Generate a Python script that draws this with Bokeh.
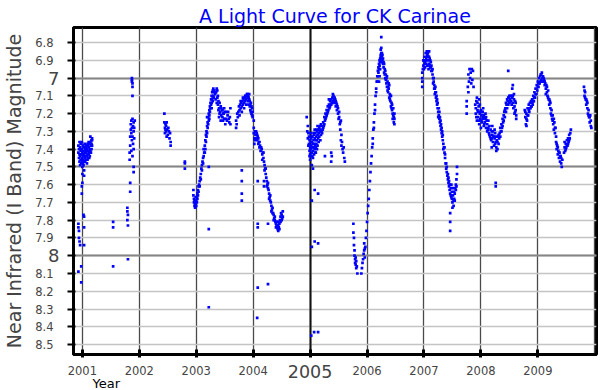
from bokeh.plotting import figure
from bokeh.models import Range1d, FixedTicker, Grid, LinearAxis, Title
from bokeh.embed import file_html
from bokeh.resources import INLINE

# ---------------- data (year, I magnitude) ----------------
season_2001 = [
    (2000.93, 7.38), (2000.93, 7.42), (2000.94, 7.45), (2000.94, 7.40), (2000.95, 7.47), (2000.95, 7.43),
    (2000.96, 7.39), (2000.96, 7.44), (2000.97, 7.41), (2000.97, 7.46), (2000.98, 7.48), (2000.98, 7.43),
    (2000.99, 7.40), (2000.99, 7.45), (2001.00, 7.42), (2001.00, 7.47), (2001.00, 7.50), (2001.01, 7.38),
    (2001.01, 7.44), (2001.02, 7.41), (2001.02, 7.46), (2001.03, 7.43), (2001.03, 7.39), (2001.04, 7.45),
    (2001.04, 7.42), (2001.05, 7.40), (2001.05, 7.47), (2001.06, 7.44), (2001.06, 7.38), (2001.07, 7.42),
    (2001.07, 7.46), (2001.08, 7.40), (2001.08, 7.44), (2001.09, 7.37), (2001.09, 7.43), (2001.10, 7.41),
    (2001.10, 7.45), (2001.11, 7.39), (2001.11, 7.43), (2001.12, 7.37), (2001.12, 7.42), (2001.13, 7.40),
    (2001.14, 7.36), (2001.14, 7.41), (2001.15, 7.38), (2001.16, 7.35), (2001.16, 7.40), (2001.17, 7.34),
    (2001.17, 7.38),
    (2000.95, 7.36), (2000.97, 7.37), (2000.99, 7.36), (2001.01, 7.48), (2001.03, 7.47), (2001.05, 7.44),
    (2001.07, 7.39), (2001.09, 7.46), (2001.11, 7.36), (2001.13, 7.44), (2001.15, 7.42), (2001.16, 7.37),
    (2001.04, 7.37), (2001.06, 7.41), (2001.08, 7.48), (2001.10, 7.38), (2001.12, 7.45), (2001.02, 7.49),
    (2000.96, 7.49), (2000.98, 7.40), (2001.14, 7.33), (2001.17, 7.35),
    (2001.00, 7.54), (2001.00, 7.59), (2000.99, 7.61), (2000.99, 7.65), (2001.03, 7.52), (2001.03, 7.55),
    (2000.93, 7.82), (2000.93, 7.84), (2000.94, 7.86), (2000.94, 7.90), (2000.95, 7.92), (2000.96, 7.94),
    (2001.02, 7.77), (2001.03, 7.78), (2001.03, 7.84), (2001.03, 7.94), (2000.93, 8.09), (2000.98, 8.06),
    (2000.98, 8.15),
]
season_2001b = [
    (2001.54, 7.81), (2001.54, 7.84), (2001.54, 8.06),
    (2001.79, 7.73), (2001.79, 7.75), (2001.80, 7.77), (2001.79, 7.80), (2001.80, 7.83), (2001.80, 8.02),
    (2001.84, 7.64), (2001.84, 7.59), (2001.90, 7.50), (2001.90, 7.53),
    (2001.83, 7.46), (2001.83, 7.42), (2001.84, 7.38), (2001.84, 7.33), (2001.85, 7.29), (2001.85, 7.26),
    (2001.86, 7.24), (2001.86, 7.31), (2001.87, 7.35), (2001.87, 7.28), (2001.88, 7.23), (2001.88, 7.33),
    (2001.89, 7.37), (2001.89, 7.27), (2001.90, 7.30), (2001.90, 7.25), (2001.91, 7.34), (2001.91, 7.28),
    (2001.92, 7.24), (2001.86, 7.41), (2001.88, 7.44), (2001.90, 7.40),
    (2001.87, 7.00), (2001.87, 7.01), (2001.87, 7.02), (2001.88, 7.03), (2001.88, 7.05), (2001.88, 7.10),
]
season_2002 = [
    (2002.44, 7.20), (2002.44, 7.25), (2002.45, 7.28), (2002.45, 7.31), (2002.46, 7.26), (2002.46, 7.29),
    (2002.47, 7.27), (2002.47, 7.30), (2002.48, 7.33), (2002.48, 7.25), (2002.49, 7.29), (2002.50, 7.32),
    (2002.51, 7.28), (2002.52, 7.30), (2002.53, 7.34), (2002.55, 7.36), (2002.55, 7.38), (2002.54, 7.31),
    (2002.80, 7.47), (2002.80, 7.48), (2002.80, 7.51),
]
season_2003 = [
    (2002.95, 7.63), (2002.95, 7.66), (2002.96, 7.68), (2002.96, 7.70), (2002.97, 7.72), (2002.97, 7.69),
    (2002.98, 7.71), (2002.98, 7.73), (2002.99, 7.70), (2002.99, 7.67), (2003.00, 7.72), (2003.00, 7.69),
    (2003.01, 7.70), (2003.01, 7.67), (2003.02, 7.68), (2003.02, 7.65), (2003.03, 7.66), (2003.03, 7.63),
    (2003.04, 7.64), (2003.04, 7.61),
    (2003.05, 7.60), (2003.06, 7.58), (2003.07, 7.56), (2003.08, 7.54), (2003.09, 7.51), (2003.10, 7.49),
    (2003.11, 7.47), (2003.12, 7.45), (2003.13, 7.44), (2003.14, 7.42), (2003.06, 7.61), (2003.08, 7.57),
    (2003.10, 7.52), (2003.12, 7.48),
    (2003.15, 7.38), (2003.16, 7.35), (2003.17, 7.32), (2003.18, 7.30), (2003.19, 7.27), (2003.20, 7.25),
    (2003.21, 7.22), (2003.22, 7.20), (2003.23, 7.18), (2003.24, 7.16), (2003.25, 7.14), (2003.26, 7.12),
    (2003.27, 7.10), (2003.28, 7.08), (2003.29, 7.07), (2003.30, 7.06), (2003.16, 7.40), (2003.18, 7.33),
    (2003.20, 7.28), (2003.22, 7.24), (2003.24, 7.19), (2003.26, 7.15), (2003.28, 7.12), (2003.30, 7.10),
    (2003.19, 7.22), (2003.23, 7.21), (2003.27, 7.14), (2003.29, 7.11), (2003.31, 7.08), (2003.36, 7.06),
    (2003.13, 7.40), (2003.15, 7.42), (2003.17, 7.36), (2003.19, 7.31), (2003.21, 7.26), (2003.23, 7.23),
    (2003.25, 7.17), (2003.27, 7.17), (2003.29, 7.13), (2003.31, 7.11), (2003.32, 7.07), (2003.34, 7.08),
    (2003.37, 7.07), (2003.38, 7.10),
    (2003.33, 7.09), (2003.34, 7.12), (2003.35, 7.08), (2003.36, 7.14), (2003.37, 7.11), (2003.38, 7.15),
    (2003.39, 7.13), (2003.40, 7.17), (2003.41, 7.14), (2003.42, 7.19), (2003.43, 7.16), (2003.44, 7.21),
    (2003.45, 7.18), (2003.46, 7.22), (2003.47, 7.24), (2003.48, 7.20), (2003.49, 7.17), (2003.50, 7.19),
    (2003.51, 7.26), (2003.52, 7.23), (2003.40, 7.22), (2003.43, 7.24), (2003.46, 7.18), (2003.55, 7.21),
    (2003.58, 7.25), (2003.60, 7.17), (2003.60, 7.26),
    (2003.39, 7.18), (2003.41, 7.20), (2003.44, 7.17), (2003.47, 7.20), (2003.49, 7.23), (2003.52, 7.19),
    (2003.54, 7.24), (2003.56, 7.19), (2003.57, 7.23), (2003.59, 7.22),
    (2003.22, 7.85), (2003.22, 8.29), (2003.22, 7.50),
    (2003.70, 7.24), (2003.70, 7.28), (2003.71, 7.26), (2003.72, 7.20), (2003.73, 7.22),
    (2003.74, 7.19), (2003.75, 7.16), (2003.76, 7.18), (2003.77, 7.15), (2003.78, 7.17), (2003.79, 7.14),
    (2003.80, 7.16), (2003.81, 7.13), (2003.82, 7.15), (2003.83, 7.12), (2003.84, 7.14), (2003.85, 7.11),
    (2003.86, 7.13), (2003.87, 7.10), (2003.88, 7.12), (2003.89, 7.09), (2003.90, 7.11), (2003.91, 7.13),
    (2003.92, 7.15), (2003.93, 7.12), (2003.94, 7.16), (2003.95, 7.18), (2003.96, 7.14), (2003.97, 7.20),
    (2003.98, 7.17), (2003.99, 7.22),
    (2003.76, 7.21), (2003.78, 7.13), (2003.80, 7.19), (2003.82, 7.11), (2003.84, 7.17), (2003.86, 7.10),
    (2003.88, 7.15), (2003.90, 7.09), (2003.91, 7.10), (2003.92, 7.11), (2003.93, 7.09), (2003.94, 7.13),
    (2003.95, 7.15), (2003.96, 7.19), (2003.97, 7.16), (2003.98, 7.21), (2003.99, 7.19),
    (2003.80, 7.52), (2003.80, 7.58), (2003.80, 7.65), (2003.80, 7.69),
]
season_2004 = [
    (2004.01, 7.24), (2004.01, 7.28), (2004.01, 7.31), (2004.02, 7.34), (2004.02, 7.37),
    (2004.03, 7.30), (2004.04, 7.32), (2004.05, 7.34), (2004.06, 7.31), (2004.07, 7.35), (2004.08, 7.33),
    (2004.09, 7.37), (2004.10, 7.36), (2004.11, 7.39), (2004.12, 7.38), (2004.13, 7.41),
    (2004.15, 7.40), (2004.16, 7.43), (2004.17, 7.42), (2004.18, 7.45), (2004.19, 7.47), (2004.20, 7.49),
    (2004.21, 7.51), (2004.22, 7.54), (2004.23, 7.56), (2004.24, 7.58), (2004.25, 7.60), (2004.26, 7.62),
    (2004.27, 7.63), (2004.28, 7.65), (2004.29, 7.67), (2004.30, 7.69), (2004.31, 7.70), (2004.32, 7.72),
    (2004.33, 7.74), (2004.34, 7.73), (2004.35, 7.76), (2004.36, 7.77), (2004.37, 7.79), (2004.38, 7.80),
    (2004.39, 7.81), (2004.40, 7.82), (2004.41, 7.83), (2004.42, 7.84), (2004.43, 7.85), (2004.44, 7.86),
    (2004.45, 7.84), (2004.46, 7.82), (2004.47, 7.80), (2004.48, 7.78), (2004.49, 7.76), (2004.50, 7.77),
    (2004.51, 7.79), (2004.52, 7.75), (2004.44, 7.81), (2004.46, 7.85),
    (2004.03, 7.35), (2004.05, 7.30), (2004.07, 7.32), (2004.09, 7.34), (2004.11, 7.36), (2004.14, 7.39),
    (2004.16, 7.46), (2004.18, 7.42), (2004.20, 7.52), (2004.22, 7.51), (2004.24, 7.61), (2004.26, 7.59),
    (2004.28, 7.68), (2004.30, 7.66), (2004.32, 7.75), (2004.34, 7.76), (2004.36, 7.80), (2004.38, 7.78),
    (2004.40, 7.84), (2004.42, 7.81), (2004.44, 7.83), (2004.48, 7.81), (2004.50, 7.80), (2004.52, 7.78),
    (2004.08, 7.58), (2004.08, 7.82), (2004.08, 7.84), (2004.08, 8.18), (2004.07, 8.35), (2004.19, 7.58),
    (2004.19, 7.61), (2004.26, 7.82), (2004.26, 8.16),
]
season_2005 = [
    (2004.94, 7.22), (2004.95, 7.30), (2004.96, 7.27), (2004.96, 7.34), (2004.97, 7.38),
    (2004.98, 7.33), (2004.98, 7.37), (2004.99, 7.41), (2004.99, 7.35), (2005.00, 7.39), (2005.00, 7.43),
    (2005.01, 7.36), (2005.01, 7.40), (2005.02, 7.34), (2005.02, 7.38), (2005.03, 7.42), (2005.03, 7.36),
    (2005.04, 7.39), (2005.04, 7.33), (2005.05, 7.37), (2005.05, 7.41), (2005.06, 7.35), (2005.06, 7.39),
    (2005.07, 7.32), (2005.07, 7.37), (2005.08, 7.40), (2005.08, 7.34), (2005.09, 7.38), (2005.09, 7.31),
    (2005.10, 7.35), (2005.10, 7.39), (2005.11, 7.33), (2005.11, 7.37), (2005.12, 7.30), (2005.12, 7.35),
    (2005.13, 7.32), (2005.13, 7.38), (2005.14, 7.29), (2005.14, 7.34), (2005.15, 7.31), (2005.16, 7.28),
    (2005.16, 7.33), (2005.17, 7.30), (2005.00, 7.46), (2005.02, 7.44), (2005.05, 7.45), (2005.07, 7.43),
    (2005.10, 7.42), (2005.18, 7.35), (2005.19, 7.32),
    (2004.97, 7.31), (2004.99, 7.44), (2005.01, 7.31), (2005.03, 7.33), (2005.04, 7.44), (2005.06, 7.31),
    (2005.08, 7.29), (2005.09, 7.42), (2005.11, 7.29), (2005.12, 7.40), (2005.13, 7.27), (2005.15, 7.36),
    (2005.17, 7.27), (2005.18, 7.29), (2005.19, 7.26),
    (2005.20, 7.30), (2005.21, 7.27), (2005.22, 7.29), (2005.23, 7.25), (2005.24, 7.27), (2005.25, 7.22),
    (2005.26, 7.24), (2005.27, 7.20), (2005.28, 7.22), (2005.29, 7.18), (2005.30, 7.20), (2005.31, 7.16),
    (2005.32, 7.18), (2005.33, 7.15), (2005.34, 7.17), (2005.35, 7.13), (2005.36, 7.15), (2005.37, 7.12),
    (2005.38, 7.14), (2005.39, 7.11), (2005.40, 7.13), (2005.41, 7.10), (2005.42, 7.12), (2005.40, 7.09),
    (2005.21, 7.31), (2005.23, 7.28), (2005.25, 7.26), (2005.27, 7.23), (2005.29, 7.21), (2005.31, 7.19),
    (2005.33, 7.12), (2005.35, 7.16), (2005.37, 7.15), (2005.39, 7.14), (2005.41, 7.13), (2005.43, 7.11),
    (2005.45, 7.13), (2005.47, 7.15), (2005.49, 7.17), (2005.51, 7.22), (2005.53, 7.25),
    (2005.43, 7.14), (2005.44, 7.12), (2005.45, 7.16), (2005.46, 7.14), (2005.47, 7.18), (2005.48, 7.16),
    (2005.49, 7.20), (2005.50, 7.23), (2005.51, 7.19), (2005.52, 7.26), (2005.53, 7.29), (2005.54, 7.24),
    (2005.55, 7.32), (2005.54, 7.35), (2005.55, 7.38), (2005.56, 7.36), (2005.57, 7.40), (2005.58, 7.42),
    (2005.59, 7.39), (2005.60, 7.45), (2005.61, 7.47),
    (2005.37, 7.42), (2005.37, 7.47), (2005.38, 7.44), (2005.26, 7.44),
    (2005.03, 7.69), (2005.08, 7.63), (2005.14, 7.65), (2005.03, 7.95), (2005.08, 7.92), (2005.14, 7.93),
    (2005.02, 8.45), (2005.07, 8.43), (2005.14, 8.43), (2005.03, 7.49), (2005.05, 7.51),
    (2005.76, 7.82), (2005.76, 7.87), (2005.77, 7.90), (2005.77, 7.94), (2005.78, 7.97), (2005.78, 8.00),
    (2005.79, 8.02), (2005.79, 8.04), (2005.80, 8.05), (2005.80, 8.01), (2005.81, 8.07), (2005.81, 8.03),
    (2005.82, 8.06), (2005.83, 8.10),
    (2005.90, 8.10), (2005.91, 8.07), (2005.92, 8.04), (2005.93, 8.02), (2005.94, 7.99), (2005.95, 7.97),
    (2005.95, 7.93), (2005.96, 7.96),
]
season_2006 = [
    (2005.96, 8.01), (2005.97, 7.95), (2005.98, 7.90), (2005.99, 7.86), (2006.00, 7.81), (2006.01, 7.76),
    (2006.02, 7.72), (2006.03, 7.68), (2006.04, 7.63), (2006.05, 7.58), (2006.06, 7.53), (2006.07, 7.48),
    (2006.08, 7.44), (2006.09, 7.39), (2006.10, 7.34), (2006.11, 7.29), (2006.12, 7.25),
    (2006.13, 7.20), (2006.14, 7.15), (2006.15, 7.10), (2006.16, 7.06), (2006.17, 7.02),
    (2006.18, 6.99), (2006.19, 6.96), (2006.20, 6.94), (2006.21, 6.92), (2006.22, 6.90), (2006.23, 6.89),
    (2006.24, 6.88), (2006.25, 6.86),
    (2006.20, 6.97), (2006.21, 6.95), (2006.22, 6.93), (2006.23, 6.91), (2006.24, 6.87), (2006.25, 6.89),
    (2006.26, 6.88), (2006.27, 6.90), (2006.28, 6.92), (2006.24, 6.84), (2006.25, 6.83), (2006.26, 6.86),
    (2006.23, 6.95), (2006.22, 6.99), (2006.21, 7.02), (2006.25, 6.77),
    (2006.10, 7.37), (2006.12, 7.28), (2006.14, 7.18), (2006.16, 7.08), (2006.18, 7.02), (2006.19, 6.99),
    (2006.26, 6.91), (2006.27, 6.87), (2006.28, 6.89), (2006.29, 6.91), (2006.31, 6.98), (2006.32, 6.96),
    (2006.34, 7.00), (2006.35, 6.99), (2006.37, 7.05), (2006.38, 7.03), (2006.40, 7.12), (2006.41, 7.10),
    (2006.43, 7.17), (2006.44, 7.15), (2006.45, 7.23), (2006.46, 7.21), (2006.48, 7.20),
    (2006.29, 6.94), (2006.30, 6.97), (2006.31, 6.95), (2006.32, 7.00), (2006.33, 6.98), (2006.34, 7.03),
    (2006.35, 7.05), (2006.36, 7.02), (2006.37, 7.08), (2006.38, 7.06), (2006.39, 7.11), (2006.40, 7.09),
    (2006.41, 7.13), (2006.42, 7.16), (2006.43, 7.14), (2006.44, 7.18), (2006.45, 7.20), (2006.46, 7.17),
    (2006.47, 7.22), (2006.47, 7.25), (2006.48, 7.23), (2006.48, 7.26), (2006.30, 6.92), (2006.33, 7.01),
    (2006.36, 7.07), (2006.39, 7.04), (2006.42, 7.10),
]
season_2007 = [
    (2006.97, 6.97), (2006.97, 7.00), (2006.97, 7.02), (2006.97, 7.05),
    (2006.99, 6.93), (2007.00, 6.90), (2007.01, 6.88), (2007.02, 6.91), (2007.03, 6.86), (2007.04, 6.89),
    (2007.05, 6.85), (2007.06, 6.87), (2007.07, 6.90), (2007.08, 6.88), (2007.09, 6.92), (2007.10, 6.89),
    (2007.11, 6.94), (2007.12, 6.91), (2007.13, 6.96), (2007.00, 6.95), (2007.02, 6.94), (2007.04, 6.92),
    (2007.06, 6.93), (2007.08, 6.95), (2007.09, 6.85),
    (2006.98, 6.95), (2006.99, 6.90), (2007.01, 6.92), (2007.03, 6.90), (2007.05, 6.88), (2007.07, 6.86),
    (2007.09, 6.88), (2007.10, 6.93), (2007.11, 6.90), (2007.12, 6.94), (2007.13, 6.93), (2007.15, 6.95),
    (2007.14, 6.96), (2007.15, 6.98), (2007.16, 7.00), (2007.17, 7.02), (2007.18, 7.04), (2007.19, 7.06),
    (2007.20, 7.08), (2007.21, 7.11), (2007.22, 7.13), (2007.23, 7.15), (2007.24, 7.17), (2007.25, 7.19),
    (2007.26, 7.21), (2007.27, 7.23), (2007.28, 7.25), (2007.29, 7.27), (2007.30, 7.29), (2007.31, 7.31),
    (2007.32, 7.33), (2007.33, 7.35), (2007.34, 7.37), (2007.35, 7.39), (2007.16, 7.03), (2007.19, 7.09),
    (2007.22, 7.10), (2007.25, 7.22), (2007.28, 7.22), (2007.31, 7.28), (2007.34, 7.40),
    (2007.17, 7.00), (2007.18, 7.06), (2007.20, 7.05), (2007.21, 7.08), (2007.23, 7.12), (2007.24, 7.14),
    (2007.26, 7.17), (2007.27, 7.19), (2007.29, 7.24), (2007.30, 7.26), (2007.32, 7.30), (2007.33, 7.32),
    (2007.36, 7.42), (2007.37, 7.45), (2007.38, 7.48), (2007.39, 7.51), (2007.40, 7.53), (2007.41, 7.55),
    (2007.42, 7.57), (2007.43, 7.59), (2007.44, 7.61), (2007.45, 7.63),
    (2007.36, 7.39), (2007.37, 7.43), (2007.39, 7.48), (2007.40, 7.50), (2007.42, 7.54), (2007.43, 7.56),
    (2007.44, 7.58), (2007.45, 7.60), (2007.47, 7.66), (2007.49, 7.68), (2007.52, 7.69), (2007.54, 7.69),
    (2007.56, 7.63), (2007.57, 7.61),
    (2007.46, 7.65), (2007.47, 7.62), (2007.48, 7.67), (2007.49, 7.64), (2007.50, 7.70), (2007.51, 7.66),
    (2007.52, 7.72), (2007.53, 7.68), (2007.54, 7.65), (2007.55, 7.62), (2007.56, 7.60), (2007.57, 7.57),
    (2007.58, 7.54), (2007.48, 7.60), (2007.51, 7.62), (2007.53, 7.64), (2007.50, 7.73), (2007.58, 7.50),
    (2007.46, 7.76), (2007.46, 7.81), (2007.46, 7.86),
    (2007.75, 7.13), (2007.75, 7.16), (2007.75, 7.20),
    (2007.77, 7.05), (2007.78, 6.98), (2007.79, 7.02), (2007.80, 6.95), (2007.81, 7.00), (2007.82, 6.97),
    (2007.83, 7.03), (2007.84, 6.95), (2007.85, 7.01), (2007.86, 6.96), (2007.87, 7.05), (2007.78, 7.08),
]
season_2008 = [
    (2007.90, 7.15), (2007.91, 7.20), (2007.92, 7.13), (2007.93, 7.24), (2007.94, 7.18), (2007.95, 7.22),
    (2007.96, 7.16), (2007.97, 7.26), (2007.98, 7.20), (2007.99, 7.23), (2008.00, 7.18), (2008.01, 7.21),
    (2008.02, 7.25), (2008.03, 7.19), (2008.04, 7.23), (2008.05, 7.27), (2008.06, 7.22), (2008.07, 7.25),
    (2008.08, 7.20), (2008.09, 7.28), (2008.10, 7.24), (2007.93, 7.11), (2007.97, 7.12), (2008.00, 7.28),
    (2008.04, 7.17),
    (2007.91, 7.17), (2007.92, 7.22), (2007.94, 7.14), (2007.95, 7.19), (2007.96, 7.24), (2007.98, 7.15),
    (2007.99, 7.19), (2008.01, 7.24), (2008.02, 7.19), (2008.03, 7.22), (2008.05, 7.21), (2008.06, 7.26),
    (2008.08, 7.23), (2008.09, 7.22),
    (2008.11, 7.26), (2008.12, 7.29), (2008.13, 7.24), (2008.14, 7.31), (2008.15, 7.27), (2008.16, 7.33),
    (2008.17, 7.29), (2008.18, 7.35), (2008.19, 7.30), (2008.20, 7.32), (2008.21, 7.36), (2008.22, 7.33),
    (2008.23, 7.38), (2008.24, 7.34), (2008.25, 7.31), (2008.26, 7.36), (2008.27, 7.39), (2008.28, 7.35),
    (2008.29, 7.40), (2008.30, 7.33), (2008.31, 7.37), (2008.32, 7.34), (2008.20, 7.27), (2008.24, 7.29),
    (2008.27, 7.41), (2008.19, 7.39), (2008.26, 7.59), (2008.26, 7.61),
    (2008.11, 7.30), (2008.13, 7.28), (2008.15, 7.32), (2008.17, 7.34), (2008.19, 7.34), (2008.21, 7.30),
    (2008.23, 7.33), (2008.25, 7.37), (2008.27, 7.33), (2008.29, 7.36), (2008.31, 7.32), (2008.34, 7.33),
    (2008.33, 7.31), (2008.34, 7.28), (2008.35, 7.30), (2008.36, 7.26), (2008.37, 7.28), (2008.38, 7.23),
    (2008.39, 7.25), (2008.40, 7.21), (2008.41, 7.19), (2008.42, 7.22), (2008.43, 7.17), (2008.44, 7.19),
    (2008.45, 7.15), (2008.46, 7.17), (2008.47, 7.13), (2008.48, 7.15), (2008.49, 7.11), (2008.50, 7.14),
    (2008.51, 7.12), (2008.52, 7.10), (2008.53, 7.13), (2008.54, 7.15), (2008.55, 7.11), (2008.56, 7.14),
    (2008.57, 7.17), (2008.58, 7.12), (2008.59, 7.16), (2008.60, 7.19), (2008.61, 7.14), (2008.62, 7.21),
    (2008.36, 7.30), (2008.38, 7.27), (2008.40, 7.24), (2008.42, 7.18), (2008.44, 7.14), (2008.46, 7.12),
    (2008.48, 7.11), (2008.50, 7.10), (2008.52, 7.13), (2008.54, 7.10), (2008.56, 7.10), (2008.58, 7.09),
    (2008.60, 7.13), (2008.61, 7.18),
    (2008.48, 6.96), (2008.56, 7.04), (2008.55, 7.06), (2008.59, 7.20), (2008.62, 7.23),
    (2008.77, 7.18), (2008.78, 7.22), (2008.79, 7.26), (2008.80, 7.20), (2008.81, 7.24), (2008.82, 7.17),
    (2008.83, 7.21), (2008.84, 7.15), (2008.85, 7.19), (2008.86, 7.14), (2008.87, 7.17), (2008.88, 7.13),
    (2008.89, 7.16), (2008.90, 7.12), (2008.91, 7.15), (2008.80, 7.27),
    (2008.78, 7.19), (2008.80, 7.23), (2008.82, 7.21), (2008.84, 7.18), (2008.86, 7.17), (2008.88, 7.16),
    (2008.90, 7.14), (2008.92, 7.13), (2008.94, 7.11), (2008.96, 7.09),
    (2008.92, 7.10), (2008.93, 7.13), (2008.94, 7.08), (2008.95, 7.11), (2008.96, 7.06), (2008.97, 7.09),
    (2008.98, 7.04), (2008.99, 7.07),
]
season_2009 = [
    (2009.00, 7.02), (2009.01, 7.05), (2009.02, 7.00), (2009.03, 7.03), (2009.04, 6.99), (2009.05, 6.98),
    (2009.06, 7.01), (2009.07, 6.97), (2009.08, 7.00), (2009.09, 6.99), (2009.10, 7.02), (2009.11, 7.01),
    (2009.12, 7.04),
    (2009.00, 7.05), (2009.02, 7.03), (2009.04, 7.02), (2009.06, 6.98), (2009.08, 7.02), (2009.10, 7.00),
    (2009.12, 7.02), (2009.14, 7.09), (2009.16, 7.05), (2009.18, 7.11), (2009.20, 7.12), (2009.22, 7.14),
    (2009.24, 7.21), (2009.26, 7.24), (2009.28, 7.23), (2009.30, 7.28),
    (2009.13, 7.03), (2009.14, 7.06), (2009.15, 7.04), (2009.16, 7.08), (2009.17, 7.10), (2009.18, 7.07),
    (2009.19, 7.12), (2009.20, 7.15), (2009.21, 7.13), (2009.22, 7.17), (2009.23, 7.20), (2009.24, 7.18),
    (2009.25, 7.23), (2009.26, 7.21), (2009.27, 7.26), (2009.28, 7.29), (2009.29, 7.25), (2009.30, 7.31),
    (2009.31, 7.28), (2009.32, 7.33),
    (2009.32, 7.36), (2009.33, 7.40), (2009.34, 7.38), (2009.35, 7.43), (2009.36, 7.41), (2009.37, 7.45),
    (2009.38, 7.42), (2009.39, 7.47), (2009.40, 7.44), (2009.41, 7.48), (2009.42, 7.50), (2009.43, 7.46),
    (2009.33, 7.37), (2009.35, 7.39), (2009.37, 7.42), (2009.39, 7.44), (2009.41, 7.45),
    (2009.46, 7.42), (2009.47, 7.39), (2009.48, 7.41), (2009.49, 7.37), (2009.50, 7.39), (2009.51, 7.35),
    (2009.52, 7.38), (2009.53, 7.34), (2009.54, 7.36), (2009.55, 7.32), (2009.56, 7.34), (2009.57, 7.31),
    (2009.58, 7.29),
    (2009.47, 7.36), (2009.49, 7.40), (2009.51, 7.38), (2009.53, 7.37), (2009.55, 7.35),
    (2009.81, 7.05), (2009.82, 7.07), (2009.82, 7.10), (2009.83, 7.08), (2009.84, 7.12), (2009.85, 7.15),
    (2009.86, 7.13), (2009.87, 7.17), (2009.88, 7.20), (2009.89, 7.18), (2009.90, 7.22), (2009.91, 7.25),
    (2009.92, 7.21), (2009.93, 7.27), (2009.94, 7.28),
    (2009.83, 7.11), (2009.85, 7.12), (2009.87, 7.14), (2009.89, 7.21), (2009.91, 7.22), (2009.93, 7.24),
]

x_ticks = [2001, 2002, 2003, 2004, 2005, 2006, 2007, 2008, 2009]
x_tick_labels = ["2001", "2002", "2003", "2004", "2005", "2006", "2007", "2008", "2009"]
grid_years = [2001, 2002, 2003, 2004, 2005, 2006, 2007, 2008, 2009, 2010]
highlight_year = 2005
y_ticks = [6.8, 6.9, 7.0, 7.1, 7.2, 7.3, 7.4, 7.5, 7.6, 7.7, 7.8, 7.9, 8.0, 8.1, 8.2, 8.3, 8.4, 8.5]
y_tick_labels = ["6.8", "6.9", "7", "7.1", "7.2", "7.3", "7.4", "7.5", "7.6", "7.7", "7.8", "7.9",
                 "8", "8.1", "8.2", "8.3", "8.4", "8.5"]
big_y_labels = ["7", "8"]
major_mag_lines = [7.0, 7.5, 8.0]

title_text = "A Light Curve for CK Carinae"
y_label_text = "Near Infrared (I Band) Magnitude"
x_label_text = "Year"

# ---------------- figure ----------------
FONT = "DejaVu Sans"
p = figure(width=600, height=390, output_backend="svg", toolbar_location=None,
           x_range=Range1d(2000.844, 2010.03), y_range=Range1d(8.556, 6.7155),
           min_border_left=68, min_border_right=4, min_border_top=27, min_border_bottom=36)
p.background_fill_color = "white"
p.border_fill_color = "white"
p.outline_line_color = "black"
p.outline_line_width = 3

p.title.text = title_text
p.title.align = "center"
p.title.text_font = FONT
p.title.text_font_size = "19px"
p.title.text_font_style = "normal"
p.title.text_color = "#0000ff"
p.title.standoff = 2
p.title.offset = -8

# inner y axis: ticks + the two big labels
ya = p.yaxis[0]
ya.ticker = FixedTicker(ticks=y_ticks)
ya.major_label_overrides = {v: (t if t in big_y_labels else "") for v, t in zip(y_ticks, y_tick_labels)}
ya.major_label_text_font = FONT
ya.major_label_text_font_size = "18px"
ya.major_label_standoff = 8
ya.major_tick_out = 6
ya.major_tick_in = 2
ya.major_tick_line_width = 2
ya.minor_tick_line_color = None
ya.axis_line_width = 3

# outer y axis: the small labels + axis title
yb = LinearAxis(ticker=FixedTicker(ticks=y_ticks))
yb.major_label_overrides = {v: ("" if t in big_y_labels else t) for v, t in zip(y_ticks, y_tick_labels)}
yb.major_label_text_font = FONT
yb.major_label_text_font_size = "11.5px"
yb.major_label_standoff = -8
yb.major_tick_out = 0
yb.major_tick_in = 0
yb.major_tick_line_color = None
yb.minor_tick_line_color = None
yb.axis_line_color = None
yb.axis_label = y_label_text
yb.axis_label_text_font = FONT
yb.axis_label_text_font_size = "19px"
yb.axis_label_text_font_style = "normal"
yb.axis_label_standoff = 7
p.add_layout(yb, "left")

# inner x axis: ticks + year labels except the highlighted one
xa = p.xaxis[0]
xa.ticker = FixedTicker(ticks=x_ticks)
xa.major_label_overrides = {v: ("" if v == highlight_year else t) for v, t in zip(x_ticks, x_tick_labels)}
xa.major_label_text_font = FONT
xa.major_label_text_font_size = "11.5px"
xa.major_label_standoff = 8
xa.major_tick_out = 3
xa.major_tick_in = 5
xa.major_tick_line_width = 3
xa.minor_tick_line_color = None
xa.axis_line_width = 3

# outer x axis: the highlighted year in a larger size
xb = LinearAxis(ticker=FixedTicker(ticks=[highlight_year]))
xb.major_label_overrides = {v: t for v, t in zip(x_ticks, x_tick_labels) if v == highlight_year}
xb.major_label_text_font = FONT
xb.major_label_text_font_size = "17.5px"
xb.major_label_standoff = -13
xb.major_tick_out = 0
xb.major_tick_in = 0
xb.major_tick_line_color = None
xb.minor_tick_line_color = None
xb.axis_line_color = None
p.add_layout(xb, "below")

p.add_layout(Title(text=x_label_text, align="left", offset=19, standoff=-13, text_font=FONT,
                   text_font_size="13px", text_font_style="normal", text_color="black"), "below")

# grids
p.ygrid.ticker = FixedTicker(ticks=y_ticks)
p.ygrid.grid_line_color = "#c4c4c4"
p.ygrid.grid_line_width = 1.3
p.xgrid.ticker = FixedTicker(ticks=grid_years)
p.xgrid.grid_line_color = "#4a4a4a"
p.xgrid.grid_line_width = 1.3
p.add_layout(Grid(dimension=1, ticker=FixedTicker(ticks=major_mag_lines),
                  grid_line_color="#858585", grid_line_width=2))
p.add_layout(Grid(dimension=0, ticker=FixedTicker(ticks=[highlight_year]),
                  grid_line_color="#111111", grid_line_width=2))

# observations
all_pts = (season_2001 + season_2001b + season_2002 + season_2003 + season_2004 +
           season_2005 + season_2006 + season_2007 + season_2008 + season_2009)
xs = [t for t, _ in all_pts]
ys = [m for _, m in all_pts]
p.scatter(xs, ys, marker="square", size=2.7, color="#0000ff", line_width=0)

open("out.html", "w").write(file_html(p, INLINE))
